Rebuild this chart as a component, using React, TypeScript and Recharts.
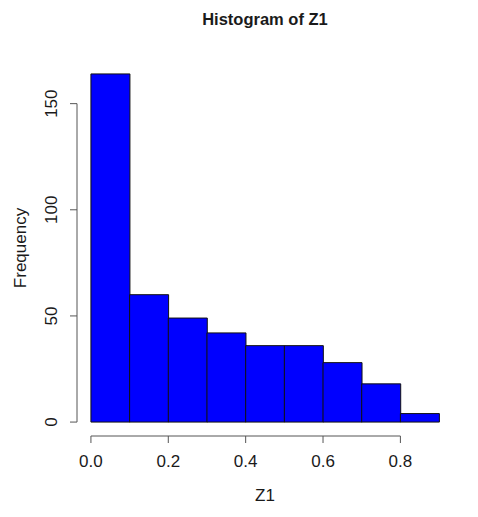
import React from 'react';
import { BarChart, Bar, XAxis, YAxis, ReferenceLine, Label } from 'recharts';

// Histogram of Z1: bins of width 0.1 from 0.0 to 0.9
const binMids: number[] = [0.05, 0.15, 0.25, 0.35, 0.45, 0.55, 0.65, 0.75, 0.85];
const counts: number[] = [164, 60, 49, 42, 36, 36, 28, 18, 4];
const xTicks: number[] = [0, 0.2, 0.4, 0.6, 0.8];
const yTicks: number[] = [0, 50, 100, 150];
const xTickLabels: string[] = ['0.0', '0.2', '0.4', '0.6', '0.8'];

const data = binMids.map((m, i) => ({ mid: m, count: counts[i] }));

// R-style 4% axis extension
const xMin = 0, xMax = 0.9;
const yMax = Math.max(...counts);
const xPad = (xMax - xMin) * 0.04;
const yPad = yMax * 0.04;
const xDomain: [number, number] = [xMin - xPad, xMax + xPad];
const yDomain: [number, number] = [-yPad, yMax + yPad];

const FONT = '"Liberation Sans", Arial, Helvetica, sans-serif';
const TEXT = '#1a1a1a';
const AXIS = '#555';

const XTick = (props: any) => {
  const { x, y, payload, index } = props;
  return (
    <text x={x} y={y + 18} textAnchor="middle" dominantBaseline="central" fontFamily={FONT} fontSize={17} fill={TEXT}>
      {xTickLabels[index] ?? String(payload.value)}
    </text>
  );
};

const YTick = (props: any) => {
  const { x, y, payload } = props;
  const cx = x - 18;
  return (
    <text x={cx} y={y} transform={`rotate(-90 ${cx} ${y})`} textAnchor="middle" dominantBaseline="central" fontFamily={FONT} fontSize={17} fill={TEXT}>
      {String(payload.value)}
    </text>
  );
};

export default function App() {
  return (
    <div style={{ position: 'absolute', left: 0, top: 0, width: 478, height: 517, background: '#fff' }}>
      <div style={{ position: 'absolute', left: 0, top: 8, width: 530, textAlign: 'center', fontFamily: FONT, fontWeight: 'bold', fontSize: 16.5, color: TEXT, lineHeight: '22px' }}>
        Histogram of Z1
      </div>
      <BarChart width={478} height={517} data={data} margin={{ top: 60, right: 25, bottom: 0, left: 0 }} barCategoryGap={0} barGap={0}>
        <XAxis dataKey="mid" type="number" domain={xDomain} ticks={xTicks} allowDataOverflow height={81}
          axisLine={false} tickLine={{ stroke: AXIS, strokeWidth: 1 }} tickSize={7} tickMargin={0} tick={<XTick />} interval={0}>
          <Label content={(p: any) => {
            const vb = p.viewBox || {};
            return (
              <text x={vb.x + vb.width / 2} y={vb.y + 59} textAnchor="middle" dominantBaseline="central" fontFamily={FONT} fontSize={17} fill={TEXT}>Z1</text>
            );
          }} />
        </XAxis>
        <YAxis type="number" domain={yDomain} ticks={yTicks} allowDataOverflow width={77}
          axisLine={false} tickLine={{ stroke: AXIS, strokeWidth: 1 }} tickSize={7} tickMargin={0} tick={<YTick />} interval={0}>
          <Label content={(p: any) => {
            const vb = p.viewBox || {};
            const cx = 20;
            const cy = vb.y + vb.height / 2;
            return (
              <text x={cx} y={cy} transform={`rotate(-90 ${cx} ${cy})`} textAnchor="middle" dominantBaseline="central" fontFamily={FONT} fontSize={17} fill={TEXT}>Frequency</text>
            );
          }} />
        </YAxis>
        <Bar dataKey="count" fill="#0000FF" stroke="#111" strokeWidth={1} isAnimationActive={false} />
        <ReferenceLine segment={[{ x: xTicks[0], y: yDomain[0] }, { x: xTicks[xTicks.length - 1], y: yDomain[0] }]} stroke={AXIS} strokeWidth={1} ifOverflow="visible" />
        <ReferenceLine segment={[{ x: xDomain[0], y: yTicks[0] }, { x: xDomain[0], y: yTicks[yTicks.length - 1] }]} stroke={AXIS} strokeWidth={1} ifOverflow="visible" />
      </BarChart>
    </div>
  );
}
